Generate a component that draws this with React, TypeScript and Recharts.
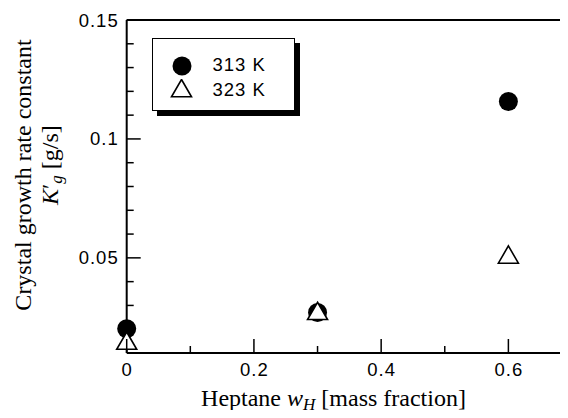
import { ScatterChart, Scatter, XAxis, YAxis } from 'recharts'

const WH = [0, 0.3, 0.6]
const K313 = [0.0202, 0.027, 0.1157]
const K323 = [0.014, 0.0265, 0.0502]
const SERIES_NAMES = ['313 K', '323 K']

const X_TICKS = [0, 0.1, 0.2, 0.3, 0.4, 0.5, 0.6]
const X_MAJOR = [0, 0.2, 0.4, 0.6]
const Y_TICKS = [0.02, 0.03, 0.04, 0.05, 0.06, 0.07, 0.08, 0.09, 0.1, 0.11, 0.12, 0.13, 0.14, 0.15]
const Y_MAJOR = [0.05, 0.1, 0.15]

const SANS = '"Liberation Sans", Arial, sans-serif'
const SERIF = '"Liberation Serif", "Times New Roman", serif'

const isMajor = (v: number, list: number[]) => list.some((m) => Math.abs(m - v) < 1e-9)

const data313 = WH.map((w, i) => ({ x: w, y: K313[i] }))
const data323 = WH.map((w, i) => ({ x: w, y: K323[i] }))

const BottomTick = ({ x, y, payload }: any) => {
  const major = isMajor(payload.value, X_MAJOR)
  return (
    <g>
      <line x1={x} x2={x} y1={y} y2={y - (major ? 14 : 7)} stroke="#000" strokeWidth={1.5} />
      {major && (
        <text x={x + 0.5} y={y + 23} textAnchor="middle" fontFamily={SANS} fontSize={18.5} letterSpacing={1} fill="#000">
          {String(payload.value)}
        </text>
      )}
    </g>
  )
}

const TopTick = ({ x, y, payload }: any) => {
  const major = isMajor(payload.value, X_MAJOR)
  return <line x1={x} x2={x} y1={y} y2={y + (major ? 14 : 7)} stroke="#000" strokeWidth={1.5} />
}

const LeftTick = ({ x, y, payload }: any) => {
  const major = isMajor(payload.value, Y_MAJOR)
  return (
    <g>
      <line x1={x} x2={x + (major ? 14 : 7)} y1={y} y2={y} stroke="#000" strokeWidth={1.5} />
      {major && (
        <text x={x - 8} y={y + 6.5} textAnchor="end" fontFamily={SANS} fontSize={18.5} letterSpacing={1} fill="#000">
          {String(payload.value)}
        </text>
      )}
    </g>
  )
}

const RightTick = ({ x, y, payload }: any) => {
  const major = isMajor(payload.value, Y_MAJOR)
  return <line x1={x} x2={x - (major ? 14 : 7)} y1={y} y2={y} stroke="#000" strokeWidth={1.5} />
}

const Dot = ({ cx, cy }: any) => <circle cx={cx} cy={cy} r={9.5} fill="#000" />

const Tri = ({ cx, cy }: any) => (
  <path
    d={`M${cx},${cy - 11.5}L${cx + 10},${cy + 5.8}L${cx - 10},${cy + 5.8}Z`}
    fill="#fff"
    stroke="#000"
    strokeWidth={1.6}
  />
)

const XTitle = () => (
  <text x={333.5} y={406} textAnchor="middle" fontFamily={SERIF} fontSize={24} fill="#000">
    Heptane <tspan fontStyle="italic">w</tspan>
    <tspan fontStyle="italic" fontSize={17} dy={4}>H</tspan>
    <tspan dy={-4}> [mass fraction]</tspan>
  </text>
)

const YTitle = () => (
  <g>
    <text x={31} y={175} transform="rotate(-90 31 175)" textAnchor="middle" fontFamily={SERIF} fontSize={24} fill="#000">
      Crystal growth rate constant
    </text>
    <text x={58} y={165} transform="rotate(-90 58 165)" textAnchor="middle" fontFamily={SERIF} fontSize={24} fill="#000">
      <tspan fontStyle="italic">K</tspan>
      <tspan>′</tspan>
      <tspan fontStyle="italic" fontSize={17} dy={4}>g</tspan>
      <tspan dy={-4}> [g/s]</tspan>
    </text>
  </g>
)

function LegendBox() {
  return (
    <div
      style={{
        position: 'absolute',
        left: 151.5,
        top: 38,
        width: 141,
        height: 71,
        border: '1.5px solid #000',
        boxShadow: '5px 5px 0 #000',
        background: '#fff',
        fontFamily: SANS,
        fontSize: 18.5,
        letterSpacing: 1,
      }}
    >
      {SERIES_NAMES.map((name, i) => (
        <div key={name} style={{ position: 'absolute', left: 0, top: 15 + i * 24.5, height: 24, width: '100%' }}>
          <svg width={40} height={24} style={{ position: 'absolute', left: 8, top: 0 }}>
            {i === 0 ? <Dot cx={21} cy={12} /> : <Tri cx={20.5} cy={12} />}
          </svg>
          <span style={{ position: 'absolute', left: 60, top: 0, lineHeight: '22px' }}>{name}</span>
        </div>
      ))}
    </div>
  )
}

export default function App() {
  return (
    <div style={{ position: 'relative', width: 568, height: 418, margin: -8, overflow: 'hidden', background: '#fff' }}>
      <ScatterChart width={580} height={418} margin={{ top: 19, right: 7, bottom: 64, left: 125.7 }}>
        <XAxis
          dataKey="x"
          type="number"
          domain={[0, 0.7]}
          ticks={X_TICKS}
          interval={0}
          height={1}
          tickSize={0}
          tickMargin={0}
          tickLine={false}
          axisLine={{ stroke: '#000', strokeWidth: 2 }}
          tick={<BottomTick />}
          label={<XTitle />}
        />
        <XAxis
          xAxisId="top"
          orientation="top"
          type="number"
          domain={[0, 0.7]}
          ticks={X_TICKS}
          interval={0}
          height={1}
          tickSize={0}
          tickMargin={0}
          tickLine={false}
          axisLine={{ stroke: '#000', strokeWidth: 2 }}
          tick={<TopTick />}
        />
        <YAxis
          dataKey="y"
          type="number"
          domain={[0.01, 0.15]}
          ticks={Y_TICKS}
          interval={0}
          width={1}
          tickSize={0}
          tickMargin={0}
          tickLine={false}
          axisLine={{ stroke: '#000', strokeWidth: 2 }}
          tick={<LeftTick />}
          label={<YTitle />}
        />
        <YAxis
          yAxisId="right"
          orientation="right"
          type="number"
          domain={[0.01, 0.15]}
          ticks={Y_TICKS}
          interval={0}
          width={1}
          tickSize={0}
          tickMargin={0}
          tickLine={false}
          axisLine={{ stroke: '#000', strokeWidth: 2 }}
          tick={<RightTick />}
        />
        <Scatter name={SERIES_NAMES[0]} data={data313} shape={<Dot />} isAnimationActive={false} />
        <Scatter name={SERIES_NAMES[1]} data={data323} shape={<Tri />} isAnimationActive={false} />
      </ScatterChart>
      <LegendBox />
    </div>
  )
}
